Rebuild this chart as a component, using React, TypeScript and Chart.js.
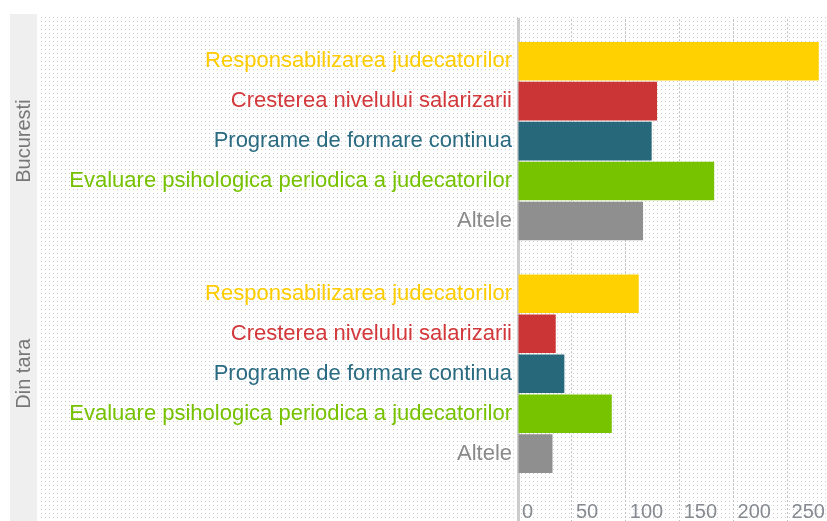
import React, { useEffect, useRef } from "react";
import { Chart, registerables } from "chart.js";

Chart.register(...registerables);

const categories = [
  "Responsabilizarea judecatorilor",
  "Cresterea nivelului salarizarii",
  "Programe de formare continua",
  "Evaluare psihologica periodica a judecatorilor",
  "Altele",
];
const groups = ["Bucuresti", "Din tara"];
const bucurestiValues = [279, 129, 124, 182, 116];
const dinTaraValues = [112, 35, 43, 87, 32];
const xTicks = [0, 50, 100, 150, 200, 250];
const barColors = ["#ffd100", "#cc3535", "#27687a", "#78c300", "#8f8f8f"];
const labelColors = ["#ffcc00", "#d3383b", "#2a6b82", "#76c200", "#8a8a8a"];

const groupOffsets = [0, 5.82];
const FONT = "'Liberation Sans', Arial, sans-serif";

export default function App() {
  const ref = useRef<HTMLCanvasElement | null>(null);

  useEffect(() => {
    document.body.style.margin = "0";
    const canvas = ref.current!;
    const groupValues = [bucurestiValues, dinTaraValues];
    const points: { x: number; y: number }[] = [];
    const labels: string[] = [];
    const colors: string[] = [];
    const tColors: string[] = [];
    groupValues.forEach((vals, g) => {
      vals.forEach((v, i) => {
        points.push({ x: v, y: groupOffsets[g] + i });
        labels.push(categories[i]);
        colors.push(barColors[i]);
        tColors.push(labelColors[i]);
      });
    });
    const positions = points.map((p) => p.y);

    const off = document.createElement("canvas");
    off.width = 4;
    off.height = 4;
    const octx = off.getContext("2d")!;
    octx.fillStyle = "#cccccc";
    octx.fillRect(1, 1, 1, 1);

    const bgPlugin = {
      id: "bg",
      beforeDraw(chart: any) {
        const ctx = chart.ctx;
        ctx.save();
        ctx.fillStyle = "#ffffff";
        ctx.fillRect(0, 0, chart.width, chart.height);
        ctx.fillStyle = "#efefef";
        ctx.fillRect(10, 14, 27, chart.height - 14);
        const pat = ctx.createPattern(off, "repeat");
        ctx.fillStyle = pat;
        ctx.fillRect(40, 14, chart.width - 40, chart.height - 14);
        const ys = chart.scales.y;
        ctx.fillStyle = "#777777";
        ctx.font = "20px " + FONT;
        ctx.textAlign = "center";
        ctx.textBaseline = "middle";
        groups.forEach((name, g) => {
          const mid = groupOffsets[g] + (categories.length - 1) / 2;
          const py = ys.getPixelForValue(mid);
          ctx.save();
          ctx.translate(24, py);
          ctx.rotate(-Math.PI / 2);
          ctx.fillText(name, 0, 0);
          ctx.restore();
        });
        ctx.restore();
      },
    };

    const chart = new Chart(canvas, {
      type: "bar",
      data: {
        datasets: [
          {
            data: points as any,
            backgroundColor: colors,
            borderWidth: 0,
            barPercentage: 0.965,
            categoryPercentage: 1,
          },
        ],
      },
      options: {
        indexAxis: "y",
        animation: false,
        responsive: false,
        devicePixelRatio: 1,
        layout: { padding: { left: 40, right: 5, top: 14, bottom: 0 } },
        plugins: { legend: { display: false }, tooltip: { enabled: false } },
        scales: {
          x: {
            type: "linear",
            min: 0,
            max: 282,
            offset: false,
            ticks: {
              stepSize: 50,
              includeBounds: false,
              align: "start",
              labelOffset: 4,
              padding: -21,
              color: "#858a90",
              font: { family: FONT, size: 20 },
            },
            afterBuildTicks: (scale: any) => {
              scale.ticks = xTicks.map((v) => ({ value: v }));
            },
            afterFit: (scale: any) => {
              scale.height = 25;
            },
            grid: {
              color: (c: any) => (c.tick && c.tick.value === 0 ? "rgba(0,0,0,0)" : "#c0c0c0"),
              lineWidth: 1,
              tickLength: 25,
              tickColor: (c: any) => (c.tick && c.tick.value === 0 ? "#cccccc" : "#c0c0c0"),
              tickWidth: (c: any) => (c.tick && c.tick.value === 0 ? 3 : 1),
              tickBorderDash: (c: any) => (c.tick && c.tick.value === 0 ? [] : [2, 2]),
            },
            border: { display: false, dash: [2, 2] },
          },
          y: {
            type: "linear",
            reverse: true,
            offset: false,
            min: -1.05,
            max: 10.88,
            afterBuildTicks: (scale: any) => {
              scale.ticks = positions.map((v) => ({ value: v }));
            },
            afterFit: (scale: any) => {
              scale.width = 478;
            },
            ticks: {
              autoSkip: false,
              padding: 6,
              callback: (_v: any, i: number) => labels[i],
              color: (c: any) => tColors[c.index],
              font: { family: FONT, size: 22 },
            },
            grid: { display: false, drawTicks: false, offset: false },
            border: { display: true, color: "#cccccc", width: 3 },
          },
        },
      },
      plugins: [bgPlugin],
    });
    return () => chart.destroy();
  }, []);

  return (
    <div style={{ position: "absolute", left: 0, top: 0, width: 827, height: 521 }}>
      <canvas ref={ref} width={827} height={521} />
    </div>
  );
}
